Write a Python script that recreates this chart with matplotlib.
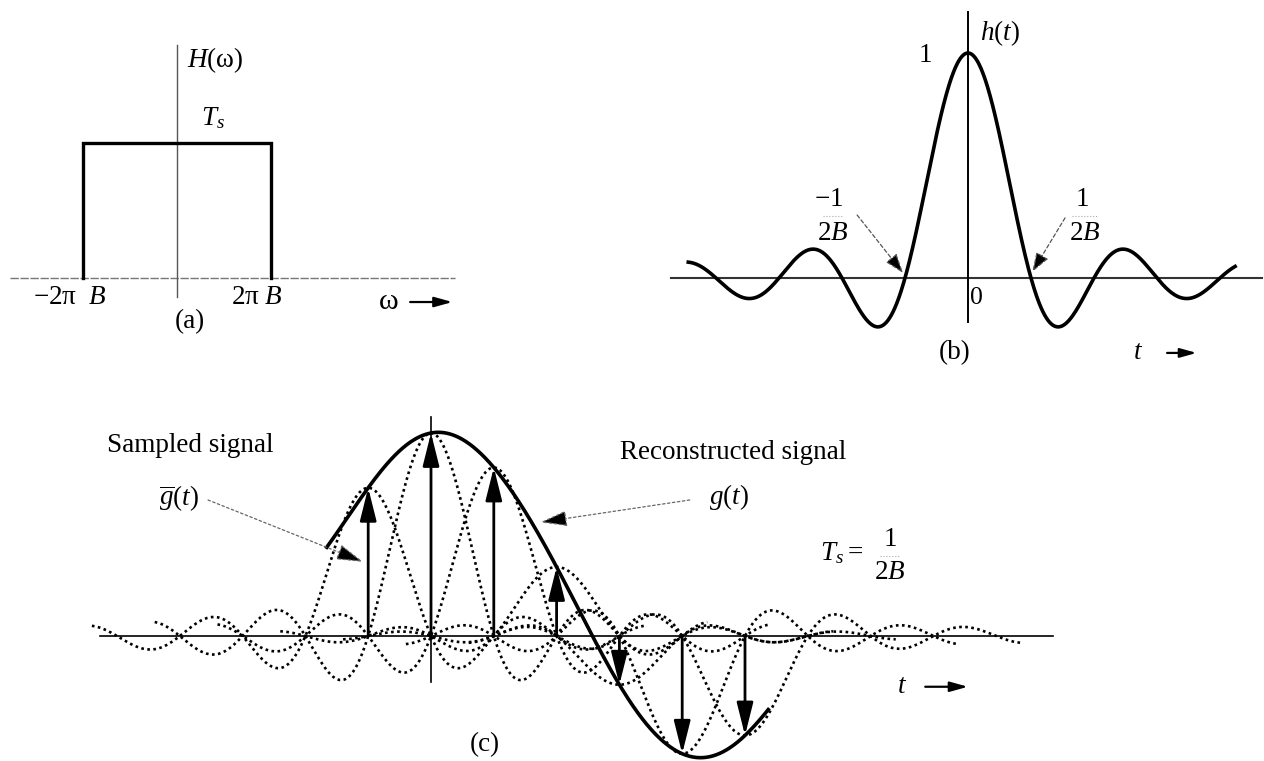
import numpy as np
import matplotlib
matplotlib.use("Agg")
import matplotlib.pyplot as plt

# Fonts: Times-like serif, italic symbols via mathtext
plt.rcParams['font.family'] = ['Liberation Serif', 'DejaVu Serif']
plt.rcParams['mathtext.fontset'] = 'custom'
plt.rcParams['mathtext.rm'] = 'Liberation Serif'
plt.rcParams['mathtext.it'] = 'Liberation Serif:italic'
plt.rcParams['mathtext.bf'] = 'Liberation Serif:bold'

# ---- data ----
# (a) ideal low-pass filter, omega in units of 2*pi*B
band_edges = [-1.0, 1.0]
filter_gain = 1.0          # T_s

# (b) impulse response h(t) = sinc(2Bt), t in units of 1/(2B)
h_t_start = -4.44
h_t_end = 4.24

# (c) samples of g(t), t in units of T_s
sample_n = [-1, 0, 1, 2, 3, 4, 5]
sample_g = [0.73, 1.0, 0.83, 0.34, -0.24, -0.58, -0.49]
# samples outside the drawn range (only shape the reconstructed curve)
edge_n = [-3, -2, 6, 7]
edge_g = [0.05, 0.30, -0.12, 0.05]
g_t_start = -1.66
g_t_end = 5.37
sinc_half_span = 4.4

W, H = 1264, 761
fig = plt.figure(figsize=(W / 100, H / 100), dpi=100)
fig.patch.set_facecolor('white')


def panel(px0, px1, py0, py1, ox, xs, oy, ys):
    # axes over a pixel box; data origin at pixel (ox, oy), xs/ys pixels per unit
    ax = fig.add_axes([px0 / W, 1 - py1 / H, (px1 - px0) / W, (py1 - py0) / H])
    ax.set_xlim((px0 - ox) / xs, (px1 - ox) / xs)
    ax.set_ylim((oy - py1) / ys, (oy - py0) / ys)
    ax.axis('off')
    return ax


def arrow(ax, x0, y0, x1, y1, lw=1.2, hl=0.9, hw=0.22, ms=14, ec='black', ls='-'):
    ax.annotate('', xy=(x1, y1), xytext=(x0, y0),
                arrowprops=dict(arrowstyle=f'-|>,head_length={hl},head_width={hw}',
                                lw=lw, ec=ec, fc='black', ls=ls,
                                shrinkA=0, shrinkB=0, mutation_scale=ms))


FS = 19.5

# ---- (a) ----
axa = panel(0, 480, 0, 340, 177, 94, 278, 135)
axa.plot([-1.78, 2.96], [0, 0], color='#777777', lw=1.0, ls=(0, (6, 1.2)))
axa.plot([0, 0], [-0.141, 1.726], color='#555555', lw=1.0)
lo, hi = band_edges
axa.plot([lo, lo, hi, hi], [0, filter_gain, filter_gain, 0], color='black', lw=2.4,
         solid_joinstyle='miter')
axa.text(0.106, 1.615, r'$H(\mathrm{\omega})$', fontsize=FS, ha='left', va='center')
axa.text(0.383, 1.185, r'$T_s$', fontsize=FS, ha='center', va='center')
axa.text(-1.138, -0.141, r'$-2\mathrm{\pi}\ \ B$', fontsize=FS, ha='center', va='center')
axa.text(0.851, -0.141, r'$2\mathrm{\pi}\ B$', fontsize=FS, ha='center', va='center')
axa.text(2.245, -0.178, r'$\mathrm{\omega}$', fontsize=FS + 2, ha='center', va='center')
arrow(axa, 2.48, -0.178, 2.93, -0.178, lw=1.6, hl=0.9, hw=0.25, ms=12)
axa.text(0.138, -0.326, '(a)', fontsize=FS, ha='center', va='center')

# ---- (b) ----
axb = panel(640, 1264, 0, 400, 968, 63, 278, 225)
axb.plot([-4.71, 4.67], [0, 0], color='#333333', lw=1.5)
axb.plot([0, 0], [-0.196, 1.182], color='black', lw=1.4)
tb = np.linspace(h_t_start, h_t_end, 800)
axb.plot(tb, np.sinc(tb), color='black', lw=2.6)
axb.text(0.19, 1.089, r'$h(t)$', fontsize=FS, ha='left', va='center')
axb.text(-0.68, 0.991, '1', fontsize=FS, ha='center', va='center')
axb.text(-2.22, 0.347, r'$-1$', fontsize=FS, ha='center', va='center')
axb.text(-2.14, 0.20, r'$2B$', fontsize=FS, ha='center', va='center')
axb.plot([-2.30, -2.0], [0.275, 0.275], color='#aaaaaa', lw=0.8, ls=':')
axb.text(1.81, 0.347, '1', fontsize=FS, ha='center', va='center')
axb.text(1.86, 0.20, r'$2B$', fontsize=FS, ha='center', va='center')
axb.plot([1.65, 2.05], [0.275, 0.275], color='#aaaaaa', lw=0.8, ls=':')
arrow(axb, -1.76, 0.28, -1.03, 0.022, lw=0.9, hl=1.0, hw=0.35, ms=12, ec='#555555', ls=(0, (3, 2)))
arrow(axb, 1.54, 0.267, 1.02, 0.027, lw=0.9, hl=1.0, hw=0.35, ms=12, ec='#555555', ls=(0, (3, 2)))
axb.text(0.14, -0.089, '0', fontsize=FS - 1, ha='center', va='center')
axb.text(-0.21, -0.333, '(b)', fontsize=FS, ha='center', va='center')
axb.text(2.70, -0.333, r'$t$', fontsize=FS, ha='center', va='center')
arrow(axb, 3.16, -0.333, 3.63, -0.333, lw=1.6, hl=0.9, hw=0.25, ms=11)

# ---- (c) ----
axc = panel(60, 1110, 380, 761, 431, 62.8, 636, 203)
axc.plot([-5.27, 9.9], [0, 0], color='black', lw=1.2)
axc.plot([0, 0], [-0.227, 1.079], color='black', lw=1.2)

# dotted sinc pulses for each sample
for n, g in zip(sample_n, sample_g):
    ts = np.linspace(n - sinc_half_span, n + sinc_half_span, 600)
    axc.plot(ts, g * np.sinc(ts - n), color='black', lw=1.9, ls=(0, (1, 1.3)))

# reconstructed signal: sum of sinc pulses
all_n = np.array(sample_n + edge_n, dtype=float)
all_g = np.array(sample_g + edge_g, dtype=float)
tc = np.linspace(g_t_start, g_t_end, 800)
gc = (all_g[:, None] * np.sinc(tc[None, :] - all_n[:, None])).sum(axis=0)
axc.plot(tc, gc, color='black', lw=2.6)

# sample arrows
for n, g in zip(sample_n, sample_g):
    arrow(axc, n, 0, n, g, lw=2.0, hl=1.0, hw=0.25, ms=20)

axc.text(-5.16, 0.94, 'Sampled signal', fontsize=FS, ha='left', va='center')
axc.text(-4.01, 0.68, r'$\overline{g}(t)$', fontsize=FS, ha='center', va='center')
arrow(axc, -3.55, 0.67, -1.08, 0.365, lw=0.9, hl=1.2, hw=0.35, ms=14, ec='#666666', ls=(0, (2, 2)))
axc.text(3.01, 0.906, 'Reconstructed signal', fontsize=FS, ha='left', va='center')
axc.text(4.75, 0.685, r'$g(t)$', fontsize=FS, ha='center', va='center')
arrow(axc, 4.12, 0.67, 1.74, 0.56, lw=0.9, hl=1.2, hw=0.35, ms=14, ec='#666666', ls=(0, (2, 2)))
axc.text(6.53, 0.41, r'$T_s=$', fontsize=FS, ha='center', va='center')
axc.text(7.31, 0.473, '1', fontsize=FS, ha='center', va='center')
axc.text(7.31, 0.315, r'$2B$', fontsize=FS, ha='center', va='center')
axc.plot([7.15, 7.47], [0.394, 0.394], color='#aaaaaa', lw=0.8, ls=':')
axc.text(7.5, -0.25, r'$t$', fontsize=FS, ha='center', va='center')
arrow(axc, 7.87, -0.25, 8.55, -0.25, lw=1.6, hl=0.9, hw=0.25, ms=12)
axc.text(0.86, -0.537, '(c)', fontsize=FS, ha='center', va='center')

fig.savefig('out.png', dpi=100, facecolor='white')
plt.close(fig)
